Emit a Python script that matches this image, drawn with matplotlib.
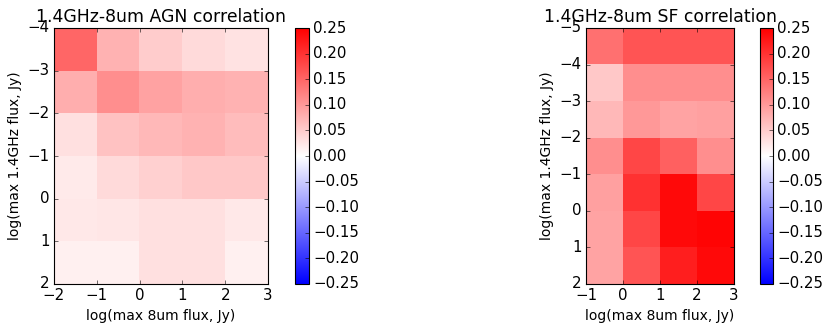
import numpy as np
import matplotlib
matplotlib.use("Agg")
import matplotlib.pyplot as plt
from matplotlib.ticker import MultipleLocator

plt.style.use('classic')

# correlation grids, rows listed top (most negative y) to bottom
agn_x_range = [-2, 3]
agn_y_range = [-4, 2]
agn_corr = [
    [0.150, 0.075, 0.050, 0.037, 0.028],
    [0.080, 0.110, 0.090, 0.080, 0.075],
    [0.030, 0.060, 0.070, 0.075, 0.065],
    [0.020, 0.036, 0.045, 0.054, 0.054],
    [0.023, 0.025, 0.030, 0.030, 0.023],
    [0.015, 0.015, 0.030, 0.030, 0.015],
]

sf_x_range = [-1, 3]
sf_y_range = [-5, 2]
sf_corr = [
    [0.140, 0.167, 0.167, 0.167],
    [0.054, 0.110, 0.110, 0.110],
    [0.070, 0.100, 0.088, 0.093],
    [0.110, 0.180, 0.156, 0.110],
    [0.093, 0.200, 0.240, 0.180],
    [0.088, 0.180, 0.240, 0.245],
    [0.088, 0.167, 0.220, 0.240],
]

W, H = 831, 332
fig = plt.figure(figsize=(W / 80.0, H / 80.0), dpi=80, facecolor='white')


def panel(ax_rect, cb_rect, data, xr, yr, title):
    ax = fig.add_axes(ax_rect)
    im = ax.imshow(np.array(data), cmap='bwr', vmin=-0.25, vmax=0.25,
                   interpolation='nearest', aspect='auto',
                   extent=[xr[0], xr[1], yr[1], yr[0]])
    ax.set_xlim(xr[0], xr[1])
    ax.set_ylim(yr[1], yr[0])
    ax.xaxis.set_major_locator(MultipleLocator(1))
    ax.yaxis.set_major_locator(MultipleLocator(1))
    ax.tick_params(labelsize=13.5)
    ax.set_title(title, fontsize=15.5)
    ax.set_xlabel('log(max 8um flux, Jy)', fontsize=12.5)
    ax.set_ylabel('log(max 1.4GHz flux, Jy)', fontsize=12.5)
    cax = fig.add_axes(cb_rect)
    cb = fig.colorbar(im, cax=cax)
    cb.set_ticks(np.arange(-0.25, 0.26, 0.05))
    cb.ax.tick_params(labelsize=13.5)
    return ax


bot = (H - 284) / H
hgt = 256 / H
panel([54 / W, bot, 214 / W, hgt], [295 / W, bot, 14 / W, hgt],
      agn_corr, agn_x_range, agn_y_range, '1.4GHz-8um AGN correlation')
panel([586 / W, bot, 148 / W, hgt], [760 / W, bot, 13 / W, hgt],
      sf_corr, sf_x_range, sf_y_range, '1.4GHz-8um SF correlation')

fig.savefig('out.png', dpi=80, facecolor='white')
